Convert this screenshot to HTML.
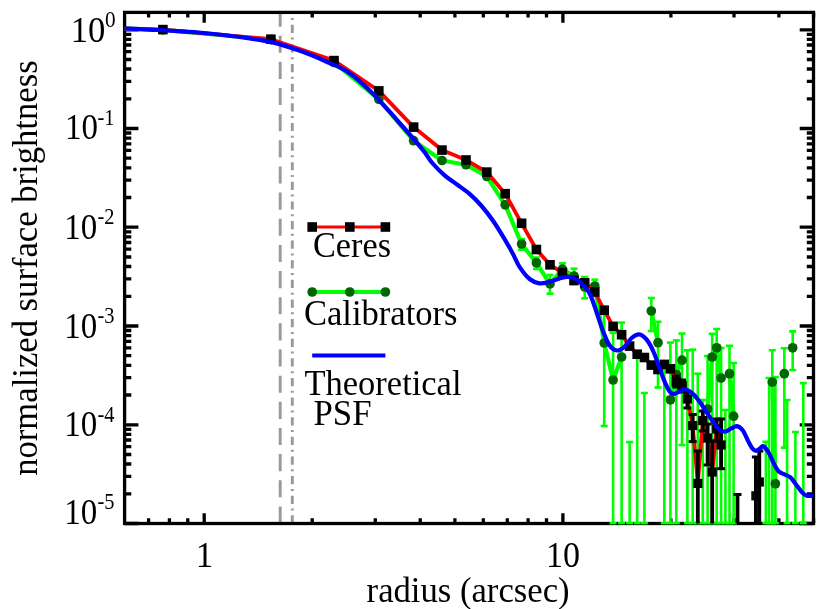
<!DOCTYPE html>
<html><head><meta charset="utf-8"><style>html,body{margin:0;padding:0;background:#fff}svg{display:block;will-change:transform;transform:translateZ(0)}text{font-family:"Liberation Serif",serif;fill:#000}</style></head><body>
<svg width="830" height="609" viewBox="0 0 830 609">
<rect width="830" height="609" fill="#fff"/>
<defs><clipPath id="c"><rect x="124.6" y="12.4" width="688.9" height="512.4"/></clipPath></defs>
<g stroke="#999" stroke-width="2.9" fill="none">
<line x1="280.2" y1="523.5" x2="280.2" y2="12.4" stroke-dasharray="17.1 9.05"/>
<line x1="292.3" y1="523.5" x2="292.3" y2="12.4" stroke-dasharray="8.2 4.8 2 4.62"/>
</g>
<g stroke="#000" stroke-width="3.3" fill="none">
<rect x="124.6" y="12.4" width="688.9" height="511.1"/>
<path d="M148.6 523.5v-5.2 M148.6 12.4v5.2"/>
<path d="M169.4 523.5v-5.2 M169.4 12.4v5.2"/>
<path d="M187.8 523.5v-5.2 M187.8 12.4v5.2"/>
<path d="M204.2 523.5v-10.3 M204.2 12.4v10.3"/>
<path d="M312.2 523.5v-5.2 M312.2 12.4v5.2"/>
<path d="M375.3 523.5v-5.2 M375.3 12.4v5.2"/>
<path d="M420.2 523.5v-5.2 M420.2 12.4v5.2"/>
<path d="M454.9 523.5v-5.2 M454.9 12.4v5.2"/>
<path d="M483.3 523.5v-5.2 M483.3 12.4v5.2"/>
<path d="M507.3 523.5v-5.2 M507.3 12.4v5.2"/>
<path d="M528.1 523.5v-5.2 M528.1 12.4v5.2"/>
<path d="M546.5 523.5v-5.2 M546.5 12.4v5.2"/>
<path d="M562.9 523.5v-10.3 M562.9 12.4v10.3"/>
<path d="M670.9 523.5v-5.2 M670.9 12.4v5.2"/>
<path d="M734.0 523.5v-5.2 M734.0 12.4v5.2"/>
<path d="M778.9 523.5v-5.2 M778.9 12.4v5.2"/>
<path d="M813.6 523.5v-5.2 M813.6 12.4v5.2"/>
<path d="M124.6 29.8h13.8 M813.5 29.8h-13.8"/>
<path d="M124.6 128.5h13.8 M813.5 128.5h-13.8"/>
<path d="M124.6 98.8h6.7 M813.5 98.8h-6.7"/>
<path d="M124.6 81.4h6.7 M813.5 81.4h-6.7"/>
<path d="M124.6 69.0h6.7 M813.5 69.0h-6.7"/>
<path d="M124.6 59.5h6.7 M813.5 59.5h-6.7"/>
<path d="M124.6 51.7h6.7 M813.5 51.7h-6.7"/>
<path d="M124.6 45.0h6.7 M813.5 45.0h-6.7"/>
<path d="M124.6 39.3h6.7 M813.5 39.3h-6.7"/>
<path d="M124.6 34.3h6.7 M813.5 34.3h-6.7"/>
<path d="M124.6 227.2h13.8 M813.5 227.2h-13.8"/>
<path d="M124.6 197.5h6.7 M813.5 197.5h-6.7"/>
<path d="M124.6 180.1h6.7 M813.5 180.1h-6.7"/>
<path d="M124.6 167.8h6.7 M813.5 167.8h-6.7"/>
<path d="M124.6 158.2h6.7 M813.5 158.2h-6.7"/>
<path d="M124.6 150.4h6.7 M813.5 150.4h-6.7"/>
<path d="M124.6 143.8h6.7 M813.5 143.8h-6.7"/>
<path d="M124.6 138.1h6.7 M813.5 138.1h-6.7"/>
<path d="M124.6 133.0h6.7 M813.5 133.0h-6.7"/>
<path d="M124.6 326.0h13.8 M813.5 326.0h-13.8"/>
<path d="M124.6 296.3h6.7 M813.5 296.3h-6.7"/>
<path d="M124.6 278.9h6.7 M813.5 278.9h-6.7"/>
<path d="M124.6 266.5h6.7 M813.5 266.5h-6.7"/>
<path d="M124.6 257.0h6.7 M813.5 257.0h-6.7"/>
<path d="M124.6 249.2h6.7 M813.5 249.2h-6.7"/>
<path d="M124.6 242.5h6.7 M813.5 242.5h-6.7"/>
<path d="M124.6 236.8h6.7 M813.5 236.8h-6.7"/>
<path d="M124.6 231.8h6.7 M813.5 231.8h-6.7"/>
<path d="M124.6 424.8h13.8 M813.5 424.8h-13.8"/>
<path d="M124.6 395.0h6.7 M813.5 395.0h-6.7"/>
<path d="M124.6 377.6h6.7 M813.5 377.6h-6.7"/>
<path d="M124.6 365.3h6.7 M813.5 365.3h-6.7"/>
<path d="M124.6 355.7h6.7 M813.5 355.7h-6.7"/>
<path d="M124.6 347.9h6.7 M813.5 347.9h-6.7"/>
<path d="M124.6 341.3h6.7 M813.5 341.3h-6.7"/>
<path d="M124.6 335.6h6.7 M813.5 335.6h-6.7"/>
<path d="M124.6 330.5h6.7 M813.5 330.5h-6.7"/>
<path d="M124.6 523.5h13.8 M813.5 523.5h-13.8"/>
<path d="M124.6 493.8h6.7 M813.5 493.8h-6.7"/>
<path d="M124.6 476.4h6.7 M813.5 476.4h-6.7"/>
<path d="M124.6 464.0h6.7 M813.5 464.0h-6.7"/>
<path d="M124.6 454.5h6.7 M813.5 454.5h-6.7"/>
<path d="M124.6 446.7h6.7 M813.5 446.7h-6.7"/>
<path d="M124.6 440.0h6.7 M813.5 440.0h-6.7"/>
<path d="M124.6 434.3h6.7 M813.5 434.3h-6.7"/>
<path d="M124.6 429.3h6.7 M813.5 429.3h-6.7"/>
</g>
<g clip-path="url(#c)">
<polyline fill="none" stroke="#0f0" stroke-width="4.2" stroke-linejoin="round" points="124.6,28.6 162.9,29.8 270.9,39.6 334.0,62.5 378.8,99.3 413.6,140.7 442.0,160.5 466.0,164.7 486.8,176.5 505.2,204.8 521.6,244.0 536.4,262.8 550.0,283.9 562.4,269.1 574.0,276.0 584.7,287.0 594.8,286.0 604.2,343.0 613.1,380.0 621.6,357.0"/>
<polyline fill="none" stroke="#0f0" stroke-width="4.2" stroke-linejoin="round" points="651.3,311.0 658.0,342.7"/>
<polyline fill="none" stroke="#0f0" stroke-width="4.2" stroke-linejoin="round" points="670.4,399.8 676.3,374.5 682.0,360.2"/>
<polyline fill="none" stroke="#0f0" stroke-width="4.2" stroke-linejoin="round" points="707.6,409.0 712.2,357.0 716.7,347.8 721.1,378.0"/>
<polyline fill="none" stroke="#0f0" stroke-width="4.2" stroke-linejoin="round" points="729.5,373.7 733.6,416.2"/>
<polyline fill="none" stroke="#0f0" stroke-width="4.2" stroke-linejoin="round" points="772.3,382.1 775.4,483.7"/>
<path d="M521.6 239.0V249.6" stroke="#0f0" stroke-width="2.6" fill="none"/>
<path d="M518.1 239.0h7" stroke="#0f0" stroke-width="2.6" fill="none"/>
<path d="M518.1 249.6h7" stroke="#0f0" stroke-width="2.6" fill="none"/>
<path d="M536.4 257.5V269.0" stroke="#0f0" stroke-width="2.6" fill="none"/>
<path d="M532.9 257.5h7" stroke="#0f0" stroke-width="2.6" fill="none"/>
<path d="M532.9 269.0h7" stroke="#0f0" stroke-width="2.6" fill="none"/>
<path d="M550.0 275.0V293.7" stroke="#0f0" stroke-width="2.6" fill="none"/>
<path d="M546.5 275.0h7" stroke="#0f0" stroke-width="2.6" fill="none"/>
<path d="M546.5 293.7h7" stroke="#0f0" stroke-width="2.6" fill="none"/>
<path d="M562.4 263.2V275.5" stroke="#0f0" stroke-width="2.6" fill="none"/>
<path d="M558.9 263.2h7" stroke="#0f0" stroke-width="2.6" fill="none"/>
<path d="M558.9 275.5h7" stroke="#0f0" stroke-width="2.6" fill="none"/>
<path d="M574.0 268.7V284.0" stroke="#0f0" stroke-width="2.6" fill="none"/>
<path d="M570.5 268.7h7" stroke="#0f0" stroke-width="2.6" fill="none"/>
<path d="M570.5 284.0h7" stroke="#0f0" stroke-width="2.6" fill="none"/>
<path d="M584.7 277.0V298.3" stroke="#0f0" stroke-width="2.6" fill="none"/>
<path d="M581.2 277.0h7" stroke="#0f0" stroke-width="2.6" fill="none"/>
<path d="M581.2 298.3h7" stroke="#0f0" stroke-width="2.6" fill="none"/>
<path d="M594.8 279.7V293.0" stroke="#0f0" stroke-width="2.6" fill="none"/>
<path d="M591.3 279.7h7" stroke="#0f0" stroke-width="2.6" fill="none"/>
<path d="M591.3 293.0h7" stroke="#0f0" stroke-width="2.6" fill="none"/>
<path d="M604.2 312.0V426.0" stroke="#0f0" stroke-width="2.6" fill="none"/>
<path d="M600.7 312.0h7" stroke="#0f0" stroke-width="2.6" fill="none"/>
<path d="M600.7 426.0h7" stroke="#0f0" stroke-width="2.6" fill="none"/>
<path d="M613.1 332.8V523.5" stroke="#0f0" stroke-width="2.6" fill="none"/>
<path d="M609.6 332.8h7" stroke="#0f0" stroke-width="2.6" fill="none"/>
<path d="M609.6 523.2h7" stroke="#0f0" stroke-width="2.4" fill="none"/>
<path d="M621.6 322.6V523.5" stroke="#0f0" stroke-width="2.6" fill="none"/>
<path d="M618.1 322.6h7" stroke="#0f0" stroke-width="2.6" fill="none"/>
<path d="M618.1 523.2h7" stroke="#0f0" stroke-width="2.4" fill="none"/>
<path d="M629.6 442.0V523.5" stroke="#0f0" stroke-width="2.6" fill="none"/>
<path d="M626.1 442.0h7" stroke="#0f0" stroke-width="2.6" fill="none"/>
<path d="M626.1 523.2h7" stroke="#0f0" stroke-width="2.4" fill="none"/>
<path d="M637.2 356.0V523.5" stroke="#0f0" stroke-width="2.6" fill="none"/>
<path d="M633.7 356.0h7" stroke="#0f0" stroke-width="2.6" fill="none"/>
<path d="M633.7 523.2h7" stroke="#0f0" stroke-width="2.4" fill="none"/>
<path d="M644.4 393.0V523.5" stroke="#0f0" stroke-width="2.6" fill="none"/>
<path d="M640.9 393.0h7" stroke="#0f0" stroke-width="2.6" fill="none"/>
<path d="M640.9 523.2h7" stroke="#0f0" stroke-width="2.4" fill="none"/>
<path d="M651.3 298.0V331.0" stroke="#0f0" stroke-width="2.6" fill="none"/>
<path d="M647.8 298.0h7" stroke="#0f0" stroke-width="2.6" fill="none"/>
<path d="M647.8 331.0h7" stroke="#0f0" stroke-width="2.6" fill="none"/>
<path d="M658.0 321.8V387.5" stroke="#0f0" stroke-width="2.6" fill="none"/>
<path d="M654.5 321.8h7" stroke="#0f0" stroke-width="2.6" fill="none"/>
<path d="M654.5 387.5h7" stroke="#0f0" stroke-width="2.6" fill="none"/>
<path d="M664.3 368.0V523.5" stroke="#0f0" stroke-width="2.6" fill="none"/>
<path d="M660.8 368.0h7" stroke="#0f0" stroke-width="2.6" fill="none"/>
<path d="M660.8 523.2h7" stroke="#0f0" stroke-width="2.4" fill="none"/>
<path d="M670.4 342.6V523.5" stroke="#0f0" stroke-width="2.6" fill="none"/>
<path d="M666.9 342.6h7" stroke="#0f0" stroke-width="2.6" fill="none"/>
<path d="M666.9 523.2h7" stroke="#0f0" stroke-width="2.4" fill="none"/>
<path d="M676.3 340.4V523.5" stroke="#0f0" stroke-width="2.6" fill="none"/>
<path d="M672.8 340.4h7" stroke="#0f0" stroke-width="2.6" fill="none"/>
<path d="M672.8 523.2h7" stroke="#0f0" stroke-width="2.4" fill="none"/>
<path d="M682.0 333.6V445.0" stroke="#0f0" stroke-width="2.6" fill="none"/>
<path d="M678.5 333.6h7" stroke="#0f0" stroke-width="2.6" fill="none"/>
<path d="M678.5 445.0h7" stroke="#0f0" stroke-width="2.6" fill="none"/>
<path d="M687.4 350.3V523.5" stroke="#0f0" stroke-width="2.6" fill="none"/>
<path d="M683.9 350.3h7" stroke="#0f0" stroke-width="2.6" fill="none"/>
<path d="M683.9 523.2h7" stroke="#0f0" stroke-width="2.4" fill="none"/>
<path d="M692.7 349.6V523.5" stroke="#0f0" stroke-width="2.6" fill="none"/>
<path d="M689.2 349.6h7" stroke="#0f0" stroke-width="2.6" fill="none"/>
<path d="M689.2 523.2h7" stroke="#0f0" stroke-width="2.4" fill="none"/>
<path d="M697.8 373.7V523.5" stroke="#0f0" stroke-width="2.6" fill="none"/>
<path d="M694.3 373.7h7" stroke="#0f0" stroke-width="2.6" fill="none"/>
<path d="M694.3 523.2h7" stroke="#0f0" stroke-width="2.4" fill="none"/>
<path d="M702.8 400.0V523.5" stroke="#0f0" stroke-width="2.6" fill="none"/>
<path d="M699.3 400.0h7" stroke="#0f0" stroke-width="2.6" fill="none"/>
<path d="M699.3 523.2h7" stroke="#0f0" stroke-width="2.4" fill="none"/>
<path d="M707.6 356.0V523.5" stroke="#0f0" stroke-width="2.6" fill="none"/>
<path d="M704.1 356.0h7" stroke="#0f0" stroke-width="2.6" fill="none"/>
<path d="M704.1 523.2h7" stroke="#0f0" stroke-width="2.4" fill="none"/>
<path d="M712.2 333.8V523.5" stroke="#0f0" stroke-width="2.6" fill="none"/>
<path d="M708.7 333.8h7" stroke="#0f0" stroke-width="2.6" fill="none"/>
<path d="M708.7 523.2h7" stroke="#0f0" stroke-width="2.4" fill="none"/>
<path d="M716.7 329.0V523.5" stroke="#0f0" stroke-width="2.6" fill="none"/>
<path d="M713.2 329.0h7" stroke="#0f0" stroke-width="2.6" fill="none"/>
<path d="M713.2 523.2h7" stroke="#0f0" stroke-width="2.4" fill="none"/>
<path d="M721.1 348.0V523.5" stroke="#0f0" stroke-width="2.6" fill="none"/>
<path d="M717.6 348.0h7" stroke="#0f0" stroke-width="2.6" fill="none"/>
<path d="M717.6 523.2h7" stroke="#0f0" stroke-width="2.4" fill="none"/>
<path d="M725.4 410.0V523.5" stroke="#0f0" stroke-width="2.6" fill="none"/>
<path d="M721.9 410.0h7" stroke="#0f0" stroke-width="2.6" fill="none"/>
<path d="M721.9 523.2h7" stroke="#0f0" stroke-width="2.4" fill="none"/>
<path d="M729.5 345.8V523.5" stroke="#0f0" stroke-width="2.6" fill="none"/>
<path d="M726.0 345.8h7" stroke="#0f0" stroke-width="2.6" fill="none"/>
<path d="M726.0 523.2h7" stroke="#0f0" stroke-width="2.4" fill="none"/>
<path d="M733.6 363.0V523.5" stroke="#0f0" stroke-width="2.6" fill="none"/>
<path d="M730.1 363.0h7" stroke="#0f0" stroke-width="2.6" fill="none"/>
<path d="M730.1 523.2h7" stroke="#0f0" stroke-width="2.4" fill="none"/>
<path d="M765.9 441.7V523.5" stroke="#0f0" stroke-width="2.6" fill="none"/>
<path d="M762.4 441.7h7" stroke="#0f0" stroke-width="2.6" fill="none"/>
<path d="M762.4 523.2h7" stroke="#0f0" stroke-width="2.4" fill="none"/>
<path d="M769.1 378.0V523.5" stroke="#0f0" stroke-width="2.6" fill="none"/>
<path d="M765.6 378.0h7" stroke="#0f0" stroke-width="2.6" fill="none"/>
<path d="M765.6 523.2h7" stroke="#0f0" stroke-width="2.4" fill="none"/>
<path d="M772.3 350.3V523.5" stroke="#0f0" stroke-width="2.6" fill="none"/>
<path d="M768.8 350.3h7" stroke="#0f0" stroke-width="2.6" fill="none"/>
<path d="M768.8 523.2h7" stroke="#0f0" stroke-width="2.4" fill="none"/>
<path d="M775.4 377.0V523.5" stroke="#0f0" stroke-width="2.6" fill="none"/>
<path d="M771.9 377.0h7" stroke="#0f0" stroke-width="2.6" fill="none"/>
<path d="M771.9 523.2h7" stroke="#0f0" stroke-width="2.4" fill="none"/>
<path d="M784.3 348.3V447.6" stroke="#0f0" stroke-width="2.6" fill="none"/>
<path d="M780.8 348.3h7" stroke="#0f0" stroke-width="2.6" fill="none"/>
<path d="M780.8 447.6h7" stroke="#0f0" stroke-width="2.6" fill="none"/>
<path d="M787.1 400.0V523.5" stroke="#0f0" stroke-width="2.6" fill="none"/>
<path d="M783.6 400.0h7" stroke="#0f0" stroke-width="2.6" fill="none"/>
<path d="M783.6 523.2h7" stroke="#0f0" stroke-width="2.4" fill="none"/>
<path d="M792.7 331.4V370.0" stroke="#0f0" stroke-width="2.6" fill="none"/>
<path d="M789.2 331.4h7" stroke="#0f0" stroke-width="2.6" fill="none"/>
<path d="M789.2 370.0h7" stroke="#0f0" stroke-width="2.6" fill="none"/>
<path d="M795.4 432.0V523.5" stroke="#0f0" stroke-width="2.6" fill="none"/>
<path d="M791.9 432.0h7" stroke="#0f0" stroke-width="2.6" fill="none"/>
<path d="M791.9 523.2h7" stroke="#0f0" stroke-width="2.4" fill="none"/>
<path d="M803.3 383.1V523.5" stroke="#0f0" stroke-width="2.6" fill="none"/>
<path d="M799.8 383.1h7" stroke="#0f0" stroke-width="2.6" fill="none"/>
<path d="M799.8 523.2h7" stroke="#0f0" stroke-width="2.4" fill="none"/>
<circle cx="162.9" cy="29.8" r="4.85" fill="#060"/>
<circle cx="270.9" cy="39.6" r="4.85" fill="#060"/>
<circle cx="334.0" cy="62.5" r="4.85" fill="#060"/>
<circle cx="378.8" cy="99.3" r="4.85" fill="#060"/>
<circle cx="413.6" cy="140.7" r="4.85" fill="#060"/>
<circle cx="442.0" cy="160.5" r="4.85" fill="#060"/>
<circle cx="466.0" cy="164.7" r="4.85" fill="#060"/>
<circle cx="486.8" cy="176.5" r="4.85" fill="#060"/>
<circle cx="505.2" cy="204.8" r="4.85" fill="#060"/>
<circle cx="521.6" cy="244.0" r="4.85" fill="#060"/>
<circle cx="536.4" cy="262.8" r="4.85" fill="#060"/>
<circle cx="550.0" cy="283.9" r="4.85" fill="#060"/>
<circle cx="562.4" cy="269.1" r="4.85" fill="#060"/>
<circle cx="574.0" cy="276.0" r="4.85" fill="#060"/>
<circle cx="584.7" cy="287.0" r="4.85" fill="#060"/>
<circle cx="594.8" cy="286.0" r="4.85" fill="#060"/>
<circle cx="604.2" cy="343.0" r="4.85" fill="#060"/>
<circle cx="613.1" cy="380.0" r="4.85" fill="#060"/>
<circle cx="621.6" cy="357.0" r="4.85" fill="#060"/>
<circle cx="651.3" cy="311.0" r="4.85" fill="#060"/>
<circle cx="658.0" cy="342.7" r="4.85" fill="#060"/>
<circle cx="670.4" cy="399.8" r="4.85" fill="#060"/>
<circle cx="676.3" cy="374.5" r="4.85" fill="#060"/>
<circle cx="682.0" cy="360.2" r="4.85" fill="#060"/>
<circle cx="707.6" cy="409.0" r="4.85" fill="#060"/>
<circle cx="712.2" cy="357.0" r="4.85" fill="#060"/>
<circle cx="716.7" cy="347.8" r="4.85" fill="#060"/>
<circle cx="721.1" cy="378.0" r="4.85" fill="#060"/>
<circle cx="729.5" cy="373.7" r="4.85" fill="#060"/>
<circle cx="733.6" cy="416.2" r="4.85" fill="#060"/>
<circle cx="772.3" cy="382.1" r="4.85" fill="#060"/>
<circle cx="775.4" cy="483.7" r="4.85" fill="#060"/>
<circle cx="784.3" cy="373.7" r="4.85" fill="#060"/>
<circle cx="792.7" cy="347.8" r="4.85" fill="#060"/>
<polyline fill="none" stroke="#f00" stroke-width="3.8" stroke-linejoin="round" points="124.6,28.6 162.9,29.6 270.9,39.2 334.0,60.6 378.8,90.9 413.6,127.1 442.0,150.1 466.0,160.0 486.8,172.1 505.2,193.7 521.6,223.3 536.4,249.5 550.0,264.8 562.4,272.7 574.0,280.5 584.7,282.8 594.8,292.0 604.2,310.2 613.1,326.4 621.6,334.7 629.6,346.1 637.2,354.2 644.4,357.5 651.3,365.1 658.0,369.5 664.3,364.4 670.4,368.8 676.3,381.4 682.0,385.8 687.4,399.0 692.7,425.6 697.8,483.4 702.8,420.6 707.6,438.0 712.2,472.0 716.7,429.0 721.1,445.0"/>
<path d="M676.3 376.0V387.0" stroke="#000" stroke-width="3.8" fill="none"/>
<path d="M672.3 376.0h8" stroke="#000" stroke-width="3" fill="none"/>
<path d="M672.3 387.0h8" stroke="#000" stroke-width="3" fill="none"/>
<path d="M682.0 380.0V392.0" stroke="#000" stroke-width="3.8" fill="none"/>
<path d="M678.0 380.0h8" stroke="#000" stroke-width="3" fill="none"/>
<path d="M678.0 392.0h8" stroke="#000" stroke-width="3" fill="none"/>
<path d="M687.4 392.0V408.0" stroke="#000" stroke-width="3.8" fill="none"/>
<path d="M683.4 392.0h8" stroke="#000" stroke-width="3" fill="none"/>
<path d="M683.4 408.0h8" stroke="#000" stroke-width="3" fill="none"/>
<path d="M692.7 414.5V441.6" stroke="#000" stroke-width="3.8" fill="none"/>
<path d="M688.7 414.5h8" stroke="#000" stroke-width="3" fill="none"/>
<path d="M688.7 441.6h8" stroke="#000" stroke-width="3" fill="none"/>
<path d="M697.8 451.0V523.5" stroke="#000" stroke-width="3.8" fill="none"/>
<path d="M693.8 451.0h8" stroke="#000" stroke-width="3" fill="none"/>
<path d="M702.8 411.0V431.0" stroke="#000" stroke-width="3.8" fill="none"/>
<path d="M698.8 411.0h8" stroke="#000" stroke-width="3" fill="none"/>
<path d="M698.8 431.0h8" stroke="#000" stroke-width="3" fill="none"/>
<path d="M707.6 424.0V465.0" stroke="#000" stroke-width="3.8" fill="none"/>
<path d="M703.6 424.0h8" stroke="#000" stroke-width="3" fill="none"/>
<path d="M703.6 465.0h8" stroke="#000" stroke-width="3" fill="none"/>
<path d="M712.2 441.0V523.5" stroke="#000" stroke-width="3.8" fill="none"/>
<path d="M708.2 441.0h8" stroke="#000" stroke-width="3" fill="none"/>
<path d="M716.7 419.0V441.0" stroke="#000" stroke-width="3.8" fill="none"/>
<path d="M712.7 419.0h8" stroke="#000" stroke-width="3" fill="none"/>
<path d="M712.7 441.0h8" stroke="#000" stroke-width="3" fill="none"/>
<path d="M721.1 419.0V468.7" stroke="#000" stroke-width="3.8" fill="none"/>
<path d="M717.1 419.0h8" stroke="#000" stroke-width="3" fill="none"/>
<path d="M717.1 468.7h8" stroke="#000" stroke-width="3" fill="none"/>
<path d="M737.5 494.5V523.5" stroke="#000" stroke-width="3.8" fill="none"/>
<path d="M733.5 494.5h8" stroke="#000" stroke-width="3" fill="none"/>
<path d="M755.9 457.0V523.5" stroke="#000" stroke-width="3.8" fill="none"/>
<path d="M751.9 457.0h8" stroke="#000" stroke-width="3" fill="none"/>
<path d="M759.3 451.0V523.5" stroke="#000" stroke-width="3.8" fill="none"/>
<path d="M755.3 451.0h8" stroke="#000" stroke-width="3" fill="none"/>
<rect x="158.1" y="24.8" width="9.6" height="9.6" fill="#000"/>
<rect x="266.1" y="34.4" width="9.6" height="9.6" fill="#000"/>
<rect x="329.2" y="55.8" width="9.6" height="9.6" fill="#000"/>
<rect x="374.0" y="86.1" width="9.6" height="9.6" fill="#000"/>
<rect x="408.8" y="122.3" width="9.6" height="9.6" fill="#000"/>
<rect x="437.2" y="145.3" width="9.6" height="9.6" fill="#000"/>
<rect x="461.2" y="155.2" width="9.6" height="9.6" fill="#000"/>
<rect x="482.0" y="167.3" width="9.6" height="9.6" fill="#000"/>
<rect x="500.4" y="188.9" width="9.6" height="9.6" fill="#000"/>
<rect x="516.8" y="218.5" width="9.6" height="9.6" fill="#000"/>
<rect x="531.6" y="244.7" width="9.6" height="9.6" fill="#000"/>
<rect x="545.2" y="260.0" width="9.6" height="9.6" fill="#000"/>
<rect x="557.6" y="267.9" width="9.6" height="9.6" fill="#000"/>
<rect x="569.2" y="275.7" width="9.6" height="9.6" fill="#000"/>
<rect x="579.9" y="278.0" width="9.6" height="9.6" fill="#000"/>
<rect x="590.0" y="287.2" width="9.6" height="9.6" fill="#000"/>
<rect x="599.4" y="305.4" width="9.6" height="9.6" fill="#000"/>
<rect x="608.3" y="321.6" width="9.6" height="9.6" fill="#000"/>
<rect x="616.8" y="329.9" width="9.6" height="9.6" fill="#000"/>
<rect x="624.8" y="341.3" width="9.6" height="9.6" fill="#000"/>
<rect x="632.4" y="349.4" width="9.6" height="9.6" fill="#000"/>
<rect x="639.6" y="352.7" width="9.6" height="9.6" fill="#000"/>
<rect x="646.5" y="360.3" width="9.6" height="9.6" fill="#000"/>
<rect x="653.2" y="364.7" width="9.6" height="9.6" fill="#000"/>
<rect x="659.5" y="359.6" width="9.6" height="9.6" fill="#000"/>
<rect x="665.6" y="364.0" width="9.6" height="9.6" fill="#000"/>
<rect x="671.5" y="376.6" width="9.6" height="9.6" fill="#000"/>
<rect x="677.2" y="381.0" width="9.6" height="9.6" fill="#000"/>
<rect x="682.8" y="394.4" width="9.2" height="9.2" fill="#000"/>
<rect x="688.1" y="421.0" width="9.2" height="9.2" fill="#000"/>
<rect x="693.2" y="478.8" width="9.2" height="9.2" fill="#000"/>
<rect x="698.2" y="416.0" width="9.2" height="9.2" fill="#000"/>
<rect x="703.0" y="433.4" width="9.2" height="9.2" fill="#000"/>
<rect x="707.6" y="467.4" width="9.2" height="9.2" fill="#000"/>
<rect x="712.1" y="424.4" width="9.2" height="9.2" fill="#000"/>
<rect x="716.5" y="440.4" width="9.2" height="9.2" fill="#000"/>
<rect x="751.3" y="491.2" width="9.2" height="9.2" fill="#000"/>
<rect x="754.7" y="477.4" width="9.2" height="9.2" fill="#000"/>
<path d="M124.6 28.3C128.7 28.5 141.1 29.2 149.3 29.6C157.5 30.0 165.7 30.3 173.9 30.8C182.1 31.3 190.3 31.8 198.5 32.5C206.7 33.2 215.0 34.0 223.2 35.0C231.4 36.0 239.6 37.0 247.8 38.2C256.0 39.4 263.8 40.3 272.4 42.4C281.0 44.5 290.5 47.5 299.3 50.6C308.1 53.7 316.8 57.4 325.0 61.0C333.2 64.7 340.5 67.0 348.5 72.5C356.5 78.0 365.0 85.8 373.2 93.9C381.4 102.0 389.6 111.8 397.8 121.0C406.0 130.2 416.6 142.3 422.4 149.3C428.1 156.3 428.6 158.7 432.3 163.0C436.0 167.3 440.5 171.7 444.6 175.3C448.7 178.9 452.9 181.4 457.0 184.5C461.1 187.6 465.2 190.1 469.3 193.7C473.4 197.3 477.5 201.3 481.6 206.0C485.7 210.7 489.8 216.0 493.9 222.0C498.0 228.0 503.0 236.5 506.2 241.8C509.4 247.1 510.8 249.8 513.0 254.0C515.2 258.2 516.9 262.9 519.7 267.1C522.5 271.3 526.3 276.3 529.6 279.0C532.9 281.7 536.1 282.8 539.4 283.3C542.7 283.8 546.0 282.7 549.3 281.9C552.6 281.1 555.8 279.4 559.1 278.6C562.4 277.8 565.7 276.6 569.0 277.0C572.3 277.4 575.5 278.4 578.8 280.9C582.1 283.4 586.0 287.5 588.7 291.8C591.4 296.1 592.5 300.7 594.8 306.9C597.0 313.1 599.8 322.7 602.2 329.1C604.7 335.5 607.0 341.7 609.5 345.3C612.0 348.9 614.4 350.2 616.9 350.5C619.4 350.8 621.8 348.9 624.3 346.8C626.8 344.7 629.2 340.1 631.7 338.0C634.2 335.9 636.6 334.1 639.1 334.3C641.6 334.5 644.0 336.3 646.5 339.4C649.0 342.5 651.0 345.9 653.9 352.7C656.8 359.4 661.2 373.4 663.9 379.9C666.5 386.4 668.1 389.4 669.8 391.7C671.5 394.0 672.5 394.0 674.2 393.9C675.9 393.8 678.1 392.0 680.1 391.3C682.1 390.6 683.8 389.0 686.0 389.5C688.2 390.0 690.9 392.0 693.4 394.3C695.9 396.6 697.8 399.2 700.8 403.5C703.8 407.8 708.7 415.6 711.7 419.9C714.8 424.2 716.9 427.5 719.1 429.5C721.3 431.5 723.0 431.8 725.0 431.7C727.0 431.6 728.9 429.6 730.9 428.7C732.9 427.8 734.8 425.9 736.8 426.1C738.8 426.4 740.7 427.6 742.7 430.2C744.7 432.8 747.0 438.9 748.6 442.0C750.2 445.1 751.4 447.2 752.5 448.6C753.6 450.1 754.3 450.7 755.5 450.7C756.7 450.7 758.2 449.5 759.5 448.8C760.8 448.1 761.7 445.7 763.2 446.3C764.7 446.9 766.7 449.5 768.6 452.6C770.5 455.7 772.7 461.5 774.4 464.7C776.1 467.9 777.3 470.0 779.0 471.6C780.7 473.2 782.8 473.5 784.7 474.5C786.6 475.5 788.6 475.7 790.5 477.4C792.4 479.1 794.3 482.3 796.2 484.8C798.1 487.3 800.3 490.5 802.0 492.3C803.7 494.1 804.7 495.1 806.6 495.7C808.5 496.3 812.3 495.7 813.4 495.7" fill="none" stroke="#00f" stroke-width="4.2"/>
</g>
<text x="105.3" y="41.7" font-size="35" text-anchor="end" textLength="34.6" lengthAdjust="spacingAndGlyphs">10</text>
<text x="105" y="26.5" font-size="23" textLength="10.6" lengthAdjust="spacingAndGlyphs">0</text>
<text x="98.1" y="139.3" font-size="35" text-anchor="end" textLength="33" lengthAdjust="spacingAndGlyphs">10</text>
<text x="97.5" y="124.7" font-size="22.5" textLength="17" lengthAdjust="spacingAndGlyphs">-1</text>
<text x="97.3" y="238.5" font-size="35" text-anchor="end" textLength="33" lengthAdjust="spacingAndGlyphs">10</text>
<text x="97.5" y="223.9" font-size="22.5" textLength="17" lengthAdjust="spacingAndGlyphs">-2</text>
<text x="97.3" y="337.5" font-size="35" text-anchor="end" textLength="33" lengthAdjust="spacingAndGlyphs">10</text>
<text x="97.5" y="322.9" font-size="22.5" textLength="17" lengthAdjust="spacingAndGlyphs">-3</text>
<text x="97.3" y="436.3" font-size="35" text-anchor="end" textLength="33" lengthAdjust="spacingAndGlyphs">10</text>
<text x="97.5" y="421.7" font-size="22.5" textLength="17" lengthAdjust="spacingAndGlyphs">-4</text>
<text x="97.3" y="523.6" font-size="35" text-anchor="end" textLength="33" lengthAdjust="spacingAndGlyphs">10</text>
<text x="97.5" y="509.0" font-size="22.5" textLength="17" lengthAdjust="spacingAndGlyphs">-5</text>
<text x="204.5" y="567" font-size="35" text-anchor="middle">1</text>
<text x="563" y="567" font-size="35" text-anchor="middle" textLength="34" lengthAdjust="spacingAndGlyphs">10</text>
<text x="468.1" y="602.3" font-size="35" text-anchor="middle" textLength="203" lengthAdjust="spacingAndGlyphs">radius (arcsec)</text>
<text transform="translate(36.6,268.1) rotate(-90)" font-size="35" text-anchor="middle" textLength="415.5" lengthAdjust="spacingAndGlyphs">normalized surface brightness</text>
<path d="M312.2 227H385.4" stroke="#f00" stroke-width="3"/>
<rect x="307.4" y="222.2" width="9.6" height="9.6" fill="#000"/>
<rect x="345.0" y="222.2" width="9.6" height="9.6" fill="#000"/>
<rect x="380.6" y="222.2" width="9.6" height="9.6" fill="#000"/>
<text x="313" y="256.6" font-size="35" textLength="78" lengthAdjust="spacingAndGlyphs">Ceres</text>
<path d="M312.2 292H385.4" stroke="#0f0" stroke-width="4"/>
<circle cx="312.2" cy="292" r="4.85" fill="#060"/>
<circle cx="349.8" cy="292" r="4.85" fill="#060"/>
<circle cx="385.4" cy="292" r="4.85" fill="#060"/>
<text x="304" y="325.3" font-size="35" textLength="153.5" lengthAdjust="spacingAndGlyphs">Calibrators</text>
<path d="M312.2 355.6H385.4" stroke="#00f" stroke-width="4"/>
<text x="304.5" y="394.6" font-size="35" textLength="157" lengthAdjust="spacingAndGlyphs">Theoretical</text>
<text x="313.5" y="424.5" font-size="35" textLength="58" lengthAdjust="spacingAndGlyphs">PSF</text>
</svg></body></html>
